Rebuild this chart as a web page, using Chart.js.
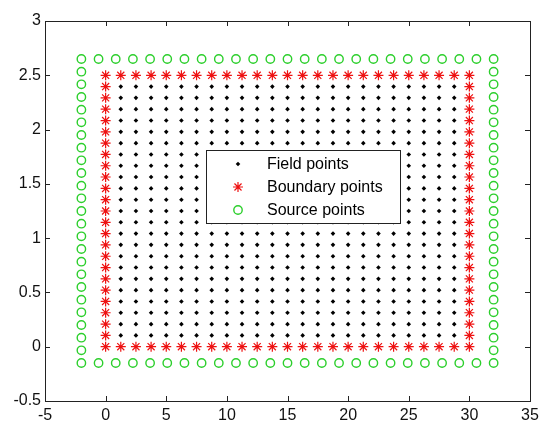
<!DOCTYPE html>
<html>
<head>
<meta charset="utf-8">
<script src="https://cdn.jsdelivr.net/npm/chart.js@4/dist/chart.umd.min.js"></script>
<style>
  html, body { margin:0; padding:0; background:#fff; }
  #wrap { width:550px; height:442px; }
</style>
</head>
<body>
<div id="wrap"><canvas id="c" width="550" height="442"></canvas></div>
<script>
// ── Data: grid coordinates ──────────────────────────────────────────
const fieldX = [1.25, 2.5, 3.75, 5, 6.25, 7.5, 8.75, 10, 11.25, 12.5, 13.75, 15,
  16.25, 17.5, 18.75, 20, 21.25, 22.5, 23.75, 25, 26.25, 27.5, 28.75];
const fieldY = [0.104, 0.208, 0.313, 0.417, 0.521, 0.625, 0.729, 0.833, 0.938, 1.042,
  1.146, 1.25, 1.354, 1.458, 1.563, 1.667, 1.771, 1.875, 1.979, 2.083, 2.188, 2.292, 2.396];

const boundaryX = [0, 1.25, 2.5, 3.75, 5, 6.25, 7.5, 8.75, 10, 11.25, 12.5, 13.75, 15,
  16.25, 17.5, 18.75, 20, 21.25, 22.5, 23.75, 25, 26.25, 27.5, 28.75, 30];
const boundaryY = [0, 0.104, 0.208, 0.313, 0.417, 0.521, 0.625, 0.729, 0.833, 0.938, 1.042,
  1.146, 1.25, 1.354, 1.458, 1.563, 1.667, 1.771, 1.875, 1.979, 2.083, 2.188, 2.292, 2.396, 2.5];

const sourceX = [-2, -0.583, 0.833, 2.25, 3.667, 5.083, 6.5, 7.917, 9.333, 10.75, 12.167,
  13.583, 15, 16.417, 17.833, 19.25, 20.667, 22.083, 23.5, 24.917, 26.333, 27.75, 29.167, 30.583, 32];
const sourceY = [-0.15, -0.033, 0.083, 0.2, 0.317, 0.433, 0.55, 0.667, 0.783, 0.9, 1.017,
  1.133, 1.25, 1.367, 1.483, 1.6, 1.717, 1.833, 1.95, 2.067, 2.183, 2.3, 2.417, 2.533, 2.65];

const xTicks = [-5, 0, 5, 10, 15, 20, 25, 30, 35];
const yTicks = [-0.5, 0, 0.5, 1, 1.5, 2, 2.5, 3];

const seriesNames = ['Field points', 'Boundary points', 'Source points'];

// full grid of interior points
function gridPoints(xs, ys) {
  const pts = [];
  xs.forEach(x => ys.forEach(y => pts.push({ x, y })));
  return pts;
}
// points along the outline of a grid
function ringPoints(xs, ys) {
  const pts = [];
  const x0 = xs[0], x1 = xs[xs.length - 1];
  const y0 = ys[0], y1 = ys[ys.length - 1];
  xs.forEach(x => { pts.push({ x, y: y0 }); pts.push({ x, y: y1 }); });
  ys.slice(1, -1).forEach(y => { pts.push({ x: x0, y }); pts.push({ x: x1, y }); });
  return pts;
}

const FONT = '"Liberation Sans", Arial, sans-serif';
const GREEN = '#2ccf2c';
const RED = '#ee1111';

// ticks drawn inward on all four sides + frame
const matlabAxes = {
  id: 'matlabAxes',
  afterDraw(chart) {
    const { ctx, chartArea: a, scales } = chart;
    ctx.save();
    ctx.strokeStyle = '#222';
    ctx.lineWidth = 1;
    ctx.beginPath();
    scales.x.ticks.forEach(t => {
      const px = Math.round(scales.x.getPixelForValue(t.value)) + 0.5;
      ctx.moveTo(px, a.bottom); ctx.lineTo(px, a.bottom - 5);
      ctx.moveTo(px, a.top); ctx.lineTo(px, a.top + 5);
    });
    scales.y.ticks.forEach(t => {
      const py = Math.round(scales.y.getPixelForValue(t.value)) + 0.5;
      ctx.moveTo(a.left, py); ctx.lineTo(a.left + 5, py);
      ctx.moveTo(a.right, py); ctx.lineTo(a.right - 5, py);
    });
    ctx.stroke();
    ctx.strokeRect(Math.round(a.left) + 0.5, Math.round(a.top) + 0.5,
      Math.round(a.right - a.left), Math.round(a.bottom - a.top));
    ctx.restore();
  }
};

// opaque legend box in the middle of the axes
const boxLegend = {
  id: 'boxLegend',
  afterDatasetsDraw(chart) {
    const ctx = chart.ctx;
    const L = 206, T = 150, W = 194, H = 73;
    ctx.save();
    ctx.fillStyle = '#fff';
    ctx.fillRect(L, T, W, H);
    ctx.strokeStyle = '#222';
    ctx.lineWidth = 1;
    ctx.strokeRect(L + 0.5, T + 0.5, W, H);
    const rows = [164, 187, 210];
    const mx = 238;
    ctx.font = '16px ' + FONT;
    ctx.textBaseline = 'middle';
    ctx.fillStyle = '#000';
    rows.forEach((y, i) => {
      const ds = chart.data.datasets[i];
      ctx.save();
      ctx.strokeStyle = ds.borderColor;
      ctx.fillStyle = ds.backgroundColor;
      ctx.lineWidth = ds.borderWidth || 1;
      if (i === 0) {
        const r = ds.pointRadius;
        ctx.beginPath();
        ctx.moveTo(mx, y - r); ctx.lineTo(mx + r, y); ctx.lineTo(mx, y + r); ctx.lineTo(mx - r, y);
        ctx.closePath(); ctx.fill();
      } else if (i === 1) {
        const r = ds.pointRadius;
        ctx.beginPath();
        ctx.moveTo(mx - r, y); ctx.lineTo(mx + r, y);
        ctx.moveTo(mx, y - r); ctx.lineTo(mx, y + r);
        const d = r * 0.707;
        ctx.moveTo(mx - d, y - d); ctx.lineTo(mx + d, y + d);
        ctx.moveTo(mx - d, y + d); ctx.lineTo(mx + d, y - d);
        ctx.stroke();
      } else {
        ctx.beginPath(); ctx.arc(mx, y, ds.pointRadius, 0, Math.PI * 2); ctx.stroke();
      }
      ctx.restore();
      ctx.fillText(seriesNames[i], 267, y + 1);
    });
    ctx.restore();
  }
};

new Chart(document.getElementById('c'), {
  type: 'scatter',
  data: {
    datasets: [
      { label: seriesNames[0], data: gridPoints(fieldX, fieldY),
        pointStyle: 'rectRot', pointRadius: 2.3, borderWidth: 0,
        backgroundColor: '#000', borderColor: '#000' },
      { label: seriesNames[1], data: ringPoints(boundaryX, boundaryY),
        pointStyle: 'star', pointRadius: 5, borderWidth: 1.2,
        backgroundColor: RED, borderColor: RED },
      { label: seriesNames[2], data: ringPoints(sourceX, sourceY),
        pointStyle: 'circle', pointRadius: 4.2, borderWidth: 1.4,
        backgroundColor: 'rgba(0,0,0,0)', borderColor: GREEN },
    ],
  },
  options: {
    responsive: false,
    animation: false,
    layout: { padding: { top: 21, right: 20, left: 0, bottom: 0 } },
    plugins: { legend: { display: false }, tooltip: { enabled: false } },
    scales: {
      x: {
        type: 'linear', min: -5, max: 35,
        afterBuildTicks: s => { s.ticks = xTicks.map(v => ({ value: v })); },
        afterFit: s => { s.height = 41; },
        grid: { display: false, drawTicks: false },
        border: { display: false },
        ticks: { color: '#111', padding: 5, font: { family: FONT, size: 16 },
                 callback: v => String(v), maxRotation: 0 },
      },
      y: {
        type: 'linear', min: -0.5, max: 3,
        afterBuildTicks: s => { s.ticks = yTicks.map(v => ({ value: v })); },
        afterFit: s => { s.width = 45; },
        grid: { display: false, drawTicks: false },
        border: { display: false },
        ticks: { color: '#111', padding: 4, font: { family: FONT, size: 16 },
                 callback: v => String(v) },
      },
    },
  },
  plugins: [boxLegend, matlabAxes],
});
</script>
</body>
</html>
